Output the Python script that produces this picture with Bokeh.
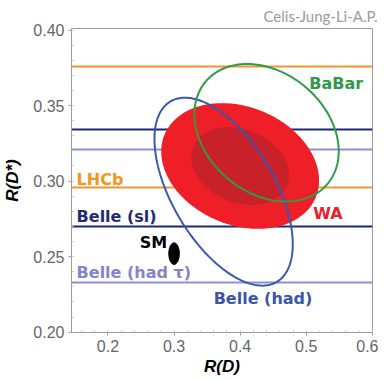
import numpy as np
from bokeh.plotting import figure
from bokeh.models import SingleIntervalTicker, ColumnDataSource, PrintfTickFormatter
from bokeh.core.properties import value
from bokeh.embed import file_html
from bokeh.resources import INLINE

# ---- data ----
band_names = ["LHCb", "Belle (sl)", "Belle (had τ)"]
band_low = [0.296, 0.270, 0.233]
band_high = [0.376, 0.334, 0.321]
band_colors = ["#F39430", "#1E2870", "#8D8FD5"]

# 2D measurements: centre, sigma, correlation, contour scale (sqrt of delta chi2)
wa_center = (0.400, 0.310)
wa_sigma = (0.0488, 0.017)
wa_rho = -0.23
babar_center = (0.440, 0.332)
babar_sigma = (0.072, 0.030)
babar_rho = -0.27
belle_had_center = (0.375, 0.293)
belle_had_sigma = (0.069, 0.041)
belle_had_rho = -0.56
k68 = np.sqrt(2.30)
k95 = np.sqrt(5.99)

sm_center = (0.300, 0.252)
sm_size = (0.016, 0.0144)

label_text = ["BaBar", "LHCb", "Belle (sl)", "WA", "SM", "Belle (had τ)", "Belle (had)"]
label_x = [0.5047, 0.1525, 0.1525, 0.5107, 0.248, 0.1525, 0.3599]
label_y = [0.3644, 0.3010, 0.2765, 0.2787, 0.2591, 0.2392, 0.2220]
label_colors = ["#2E9A47", "#F7941D", "#222C72", "#E8202A", "#000000", "#8484CC", "#3A56A8"]

x_title = "R(D)"
y_title = "R(D*)"
credit = "Celis-Jung-Li-A.P."


def contour(center, sigma, rho, k, n=240):
    t = np.linspace(0, 2 * np.pi, n)
    x = center[0] + k * sigma[0] * np.cos(t)
    y = center[1] + k * sigma[1] * (rho * np.cos(t) + np.sqrt(1 - rho ** 2) * np.sin(t))
    return x, y


p = figure(width=378, height=380, x_range=(0.1448, 0.6003), y_range=(0.1998, 0.401),
           output_backend="svg", toolbar_location=None,
           min_border_left=67, min_border_right=6, min_border_top=28, min_border_bottom=48)
p.grid.visible = False
p.outline_line_color = "#9a9a9a"
p.background_fill_color = "white"
p.border_fill_color = "white"

p.title.text = credit
p.title.align = "right"
p.title.offset = -5
p.title.text_font = "Lato"
p.title.text_font_size = "15px"
p.title.text_font_style = "normal"
p.title.text_color = "#9a9a9a"
p.title.standoff = 7

p.xaxis.ticker = SingleIntervalTicker(interval=0.1, num_minor_ticks=5)
p.yaxis.ticker = SingleIntervalTicker(interval=0.05, num_minor_ticks=5)
p.xaxis.formatter = PrintfTickFormatter(format="%.1f")
p.yaxis.formatter = PrintfTickFormatter(format="%.2f")
for ax in (p.xaxis[0], p.yaxis[0]):
    ax.axis_line_color = "#9a9a9a"
    ax.major_tick_line_color = "#9a9a9a"
    ax.minor_tick_line_color = "#c8c8c8"
    ax.major_tick_in = 0
    ax.major_tick_out = 3
    ax.minor_tick_in = 2
    ax.minor_tick_out = 0
    ax.major_label_text_font = "Liberation Sans"
    ax.major_label_text_font_size = "16px"
    ax.major_label_text_color = "#666666"
    ax.axis_label_text_font = "Liberation Sans"
    ax.axis_label_text_font_style = "bold italic"
    ax.axis_label_text_font_size = "17px"
    ax.axis_label_text_color = "black"
p.xaxis.major_label_standoff = 4
p.yaxis.major_label_standoff = 4
p.xaxis.axis_label = x_title
p.yaxis.axis_label = y_title
p.xaxis.axis_label_standoff = 2
p.yaxis.axis_label_standoff = 8

# horizontal bands (1 sigma lines)
for lo, hi, c in zip(band_low, band_high, band_colors):
    p.hspan(y=[lo, hi], line_color=c, line_width=2)

# WA filled regions
xo, yo = contour(wa_center, wa_sigma, wa_rho, k95)
p.patch(xo, yo, fill_color="#EE1F26", line_color=None)
xi, yi = contour(wa_center, wa_sigma, wa_rho, k68)
p.patch(xi, yi, fill_color="#C9212A", line_color=None)

# experiment ellipses
xb, yb = contour(belle_had_center, belle_had_sigma, belle_had_rho, k68)
p.line(xb, yb, line_color="#3A57B0", line_width=2)
xg, yg = contour(babar_center, babar_sigma, babar_rho, k68)
p.line(xg, yg, line_color="#2F9B45", line_width=2)

# SM point
p.ellipse(x=[sm_center[0]], y=[sm_center[1]], width=[sm_size[0]], height=[sm_size[1]],
          fill_color="black", line_color="black")

src = ColumnDataSource(dict(x=label_x, y=label_y, t=label_text, c=label_colors))
p.text(x="x", y="y", text="t", text_color="c", source=src, text_font=value("DejaVu Sans"),
       text_font_style="bold", text_font_size="16px", text_baseline="alphabetic", text_align="left")

open("out.html", "w").write(file_html(p, INLINE))
